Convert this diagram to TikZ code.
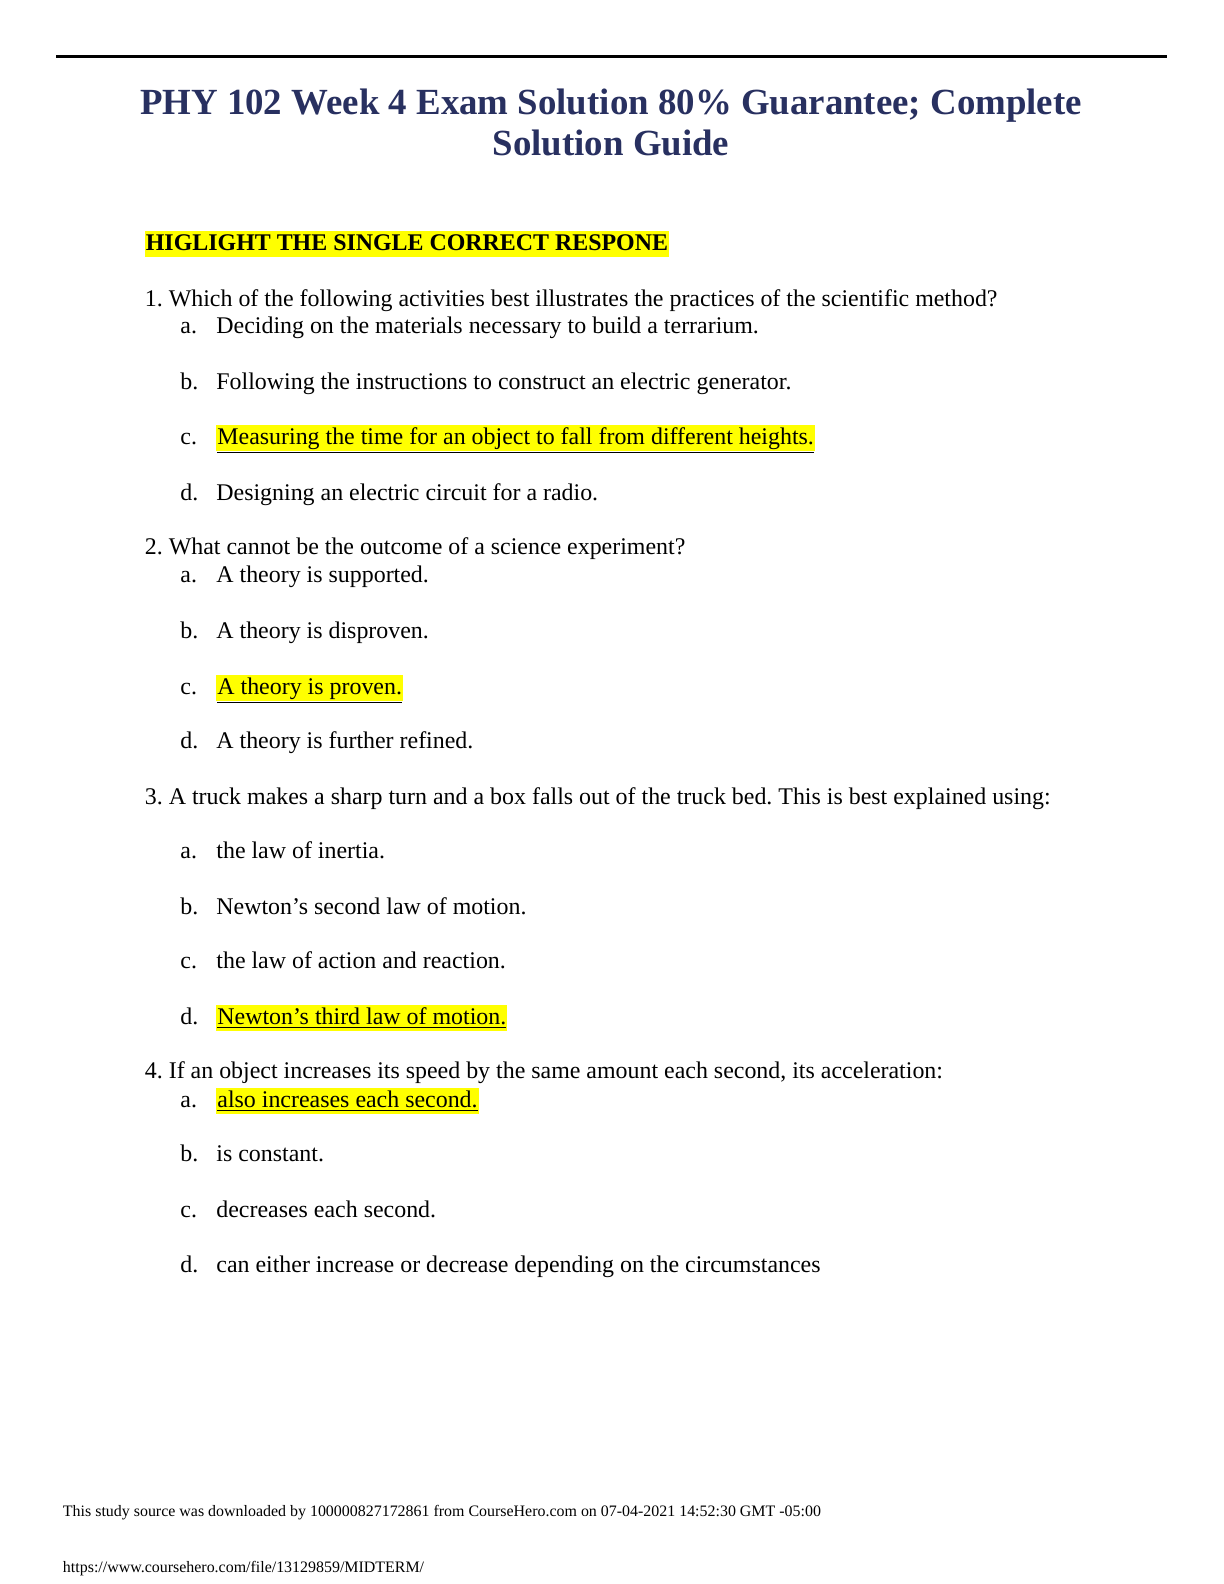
\documentclass[tikz,border=0pt]{standalone}
\usepackage{fontspec}
\setmainfont{Liberation Serif}
\usepackage{tikz}
\frenchspacing

\definecolor{titleblue}{RGB}{40,48,96}
\definecolor{hlyellow}{RGB}{255,255,0}

\tikzset{
  ln/.style={anchor=base west, inner sep=0pt, font=\fontsize{12}{14}\selectfont},
  hl/.style={ln, fill=hlyellow, inner xsep=0.5pt, inner ysep=0pt, text height=9.6pt, text depth=3.4pt},
  ttl/.style={anchor=base, inner sep=0pt, text=titleblue, font=\fontsize{18.5}{22}\selectfont\bfseries},
  foot/.style={anchor=base west, inner sep=0pt, font=\fontsize{8}{10}\selectfont}
}
\newcommand{\ulline}[1]{\underline{#1}}

\begin{document}
\begin{tikzpicture}[x=0.5bp, y=-0.5bp]
\useasboundingbox (0,0) rectangle (1224,1584);
\fill[white] (0,0) rectangle (1224,1584);

% rule and title
\coordinate (rl) at (56,56.5);
\coordinate (rr) at (1167,56.5);
\draw[line width=1.2bp] (rl) -- (rr);

\node[ttl] (t1) at (611,114) {PHY 102 Week 4 Exam Solution 80\% Guarantee; Complete};
\node[ttl] (t2) at (611,155) {Solution Guide};

\node[hl, font=\fontsize{12}{14}\selectfont\bfseries] (head) at (144.5,250.5) {HIGLIGHT THE SINGLE CORRECT RESPONE};

% question 1
\node[ln] (q1) at (144.5,306) {1. Which of the following activities best illustrates the practices of the scientific method?};
\node[ln] (q1a) at (180,333) {a.};
\node[ln] (q1at) at (216,333) {Deciding on the materials necessary to build a terrarium.};
\node[ln] (q1b) at (180,389) {b.};
\node[ln] (q1bt) at (216,389) {Following the instructions to construct an electric generator.};
\node[ln] (q1c) at (180,444) {c.};
\node[hl] (q1ct) at (216,444) {\ulline{Measuring the time for an object to fall from different heights.}};
\node[ln] (q1d) at (180,500) {d.};
\node[ln] (q1dt) at (216,500) {Designing an electric circuit for a radio.};

% question 2
\node[ln] (q2) at (144.5,554.5) {2. What cannot be the outcome of a science experiment?};
\node[ln] (q2a) at (180,582.7) {a.};
\node[ln] (q2at) at (216,582.7) {A theory is supported.};
\node[ln] (q2b) at (180,638) {b.};
\node[ln] (q2bt) at (216,638) {A theory is disproven.};
\node[ln] (q2c) at (180,694) {c.};
\node[hl] (q2ct) at (216,694) {\ulline{A theory is proven.}};
\node[ln] (q2d) at (180,748) {d.};
\node[ln] (q2dt) at (216,748) {A theory is further refined.};

% question 3
\node[ln] (q3) at (144.5,804) {3. A truck makes a sharp turn and a box falls out of the truck bed. This is best explained using:};
\node[ln] (q3a) at (180,858) {a.};
\node[ln] (q3at) at (216,858) {the law of inertia.};
\node[ln] (q3b) at (180,914) {b.};
\node[ln] (q3bt) at (216,914) {Newton’s second law of motion.};
\node[ln] (q3c) at (180,968.5) {c.};
\node[ln] (q3ct) at (216,968.5) {the law of action and reaction.};
\node[ln] (q3d) at (180,1024) {d.};
\node[hl] (q3dt) at (216,1024) {\ulline{Newton’s third law of motion.}};

% question 4
\node[ln] (q4) at (144.5,1078.6) {4. If an object increases its speed by the same amount each second, its acceleration:};
\node[ln] (q4a) at (180,1107) {a.};
\node[hl] (q4at) at (216,1107) {\ulline{also increases each second.}};
\node[ln] (q4b) at (180,1161) {b.};
\node[ln] (q4bt) at (216,1161) {is constant.};
\node[ln] (q4c) at (180,1217) {c.};
\node[ln] (q4ct) at (216,1217) {decreases each second.};
\node[ln] (q4d) at (180,1272) {d.};
\node[ln] (q4dt) at (216,1272) {can either increase or decrease depending on the circumstances};

% footer
\node[foot] (f1) at (62.6,1516) {This study source was downloaded by 100000827172861 from CourseHero.com on 07-04-2021 14:52:30 GMT -05:00};
\node[foot] (f2) at (62.6,1572) {https://www.coursehero.com/file/13129859/MIDTERM/};

\end{tikzpicture}
\end{document}
